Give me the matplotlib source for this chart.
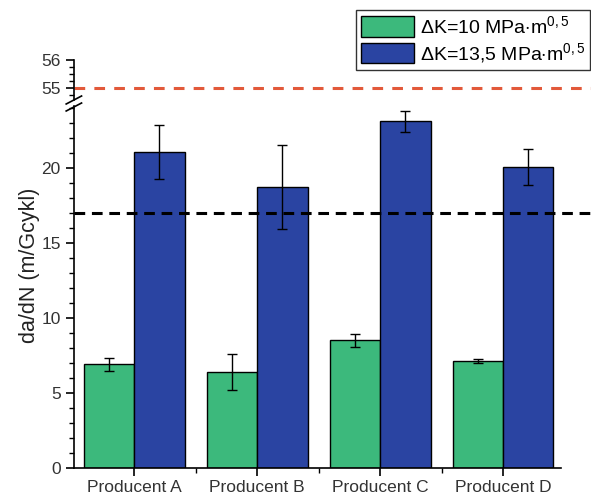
import numpy as np
import matplotlib.pyplot as plt

plt.rcParams["font.family"] = ["Liberation Sans", "DejaVu Sans"]
plt.rcParams["mathtext.fontset"] = "custom"
plt.rcParams["mathtext.rm"] = "Liberation Sans"
plt.rcParams["mathtext.it"] = "Liberation Sans:italic"

producers = ["Producent A", "Producent B", "Producent C", "Producent D"]
dk10_vals = [6.9, 6.4, 8.5, 7.15]
dk10_err = [0.45, 1.2, 0.45, 0.13]
dk135_vals = [21.05, 18.7, 23.1, 20.05]
dk135_err = [1.8, 2.8, 0.7, 1.2]
threshold_low = 17.0
threshold_high = 55.0

green = "#3cb97c"
blue = "#2a44a2"
red = "#e2593a"

fig = plt.figure(figsize=(5.91, 5.0), dpi=100)
ax = fig.add_axes([0.125, 0.064, 0.824, 0.724])
ax_top = fig.add_axes([0.125, 0.80, 0.824, 0.08], sharex=ax)

x = np.arange(len(producers))
w = 0.41
err_kw = dict(ecolor="black", elinewidth=1.0, capsize=3.5, capthick=1.0)
ax.bar(x - w / 2, dk10_vals, w, yerr=dk10_err, color=green, edgecolor="black",
       linewidth=1.0, error_kw=err_kw, label=r"$\Delta$K=10 MPa$\cdot$m$^{\mathit{0,5}}$")
ax.bar(x + w / 2, dk135_vals, w, yerr=dk135_err, color=blue, edgecolor="black",
       linewidth=1.0, error_kw=err_kw, label=r"$\Delta$K=13,5 MPa$\cdot$m$^{\mathit{0,5}}$")

ax.axhline(threshold_low, xmin=0, xmax=1.062, color="black", linestyle=(0, (3.5, 2.2)),
           linewidth=2.2, clip_on=False, zorder=3)
ax_top.axhline(threshold_high, xmin=0, xmax=1.062, color=red, linestyle=(0, (3.5, 3)),
               linewidth=2.2, clip_on=False)

ax.set_xlim(-0.49, 3.47)
ax.set_ylim(0, 24.1)
ax_top.set_ylim(54.56, 56)

ax.set_yticks([0, 5, 10, 15, 20])
ax.set_yticks(np.arange(0, 25, 1), minor=True)
ax_top.set_yticks([55, 56])
ax_top.set_yticks(np.arange(54.75, 56.01, 0.25), minor=True)

ax.set_xticks(x)
ax.set_xticklabels(producers)
ax.set_xticks(x[:-1] + 0.5, minor=True)

for a in (ax, ax_top):
    a.spines["top"].set_visible(False)
    a.spines["right"].set_visible(False)
    a.spines["left"].set_linewidth(1.2)
    a.spines["bottom"].set_linewidth(1.2)
    a.tick_params(axis="both", which="major", direction="out", length=6, width=1.2,
                  labelsize=12.5, labelcolor="#333333")
    a.tick_params(axis="both", which="minor", direction="out", length=3.5, width=1)
ax_top.spines["bottom"].set_visible(False)
ax_top.tick_params(axis="x", which="both", bottom=False, labelbottom=False)
ax.tick_params(axis="x", which="major", pad=3)

ax.set_ylabel("da/dN (m/Gcykl)", fontsize=15.5, color="#222222", y=0.56, labelpad=1)

# axis break marks
for yy in (0.786, 0.800):
    fig.add_artist(plt.Line2D([0.112, 0.138], [yy - 0.008, yy + 0.008],
                              color="black", linewidth=1.2, transform=fig.transFigure))

fig.legend(loc="upper right", bbox_to_anchor=(0.998, 0.98), borderaxespad=0, fontsize=14,
           handlelength=2.7, handleheight=1.25, handletextpad=0.3, borderpad=0.25,
           labelspacing=0.22, frameon=True, fancybox=False, edgecolor="#333333",
           framealpha=1)

fig.savefig("out.png", dpi=100)
